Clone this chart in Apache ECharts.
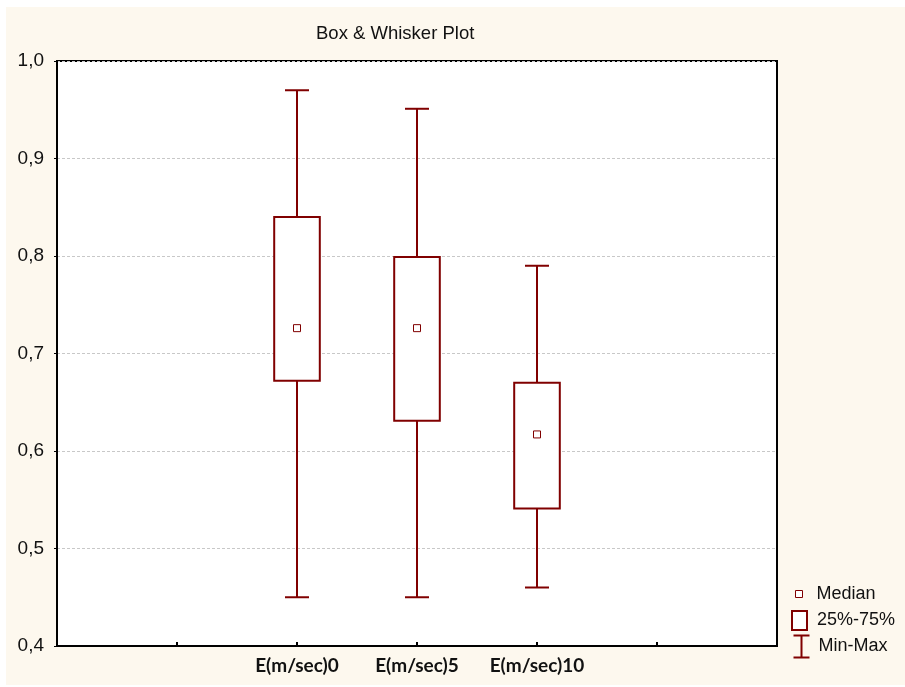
<!DOCTYPE html>
<html>
<head>
<meta charset="utf-8">
<script src="https://cdn.jsdelivr.net/npm/echarts@6/dist/echarts.min.js"></script>
<style>
  html, body { margin: 0; padding: 0; background: #ffffff; }
  #bg { position: absolute; left: 6px; top: 7px; width: 899px; height: 678px; background: #fdf8ee; }
  #chart { position: absolute; left: 0; top: 0; width: 905px; height: 687px; }
</style>
</head>
<body>
<div id="bg"></div>
<div id="chart"></div>
<script>
// ---- data ----
const categories = ['E(m/sec)0', 'E(m/sec)5', 'E(m/sec)10'];
const minVals    = [0.450, 0.450, 0.460];
const q1Vals     = [0.672, 0.631, 0.541];
const medianVals = [0.726, 0.726, 0.617];
const q3Vals     = [0.840, 0.799, 0.670];
const maxVals    = [0.970, 0.951, 0.790];
const yTicks     = [0.4, 0.5, 0.6, 0.7, 0.8, 0.9, 1.0];
const legendNames = ['Median', '25%-75%', 'Min-Max'];

// category axis padded with empty slots on both sides (as in the reference)
const axisCats = ['', ''].concat(categories, ['', '']);
const offset = 2;

const RED = '#800000';
const chart = echarts.init(document.getElementById('chart'), null, { renderer: 'canvas' });

const boxData = categories.map((c, i) => [i + offset, minVals[i], q1Vals[i], medianVals[i], q3Vals[i], maxVals[i]]);
const medData = categories.map((c, i) => [i + offset, medianVals[i]]);

function whiskerItem(params, api) {
  const x = api.value(0);
  const pMax = api.coord([x, api.value(5)]);
  const pQ3 = api.coord([x, api.value(4)]);
  const pQ1 = api.coord([x, api.value(2)]);
  const pMin = api.coord([x, api.value(1)]);
  const band = api.size([1, 0])[0];
  const half = band * 0.1;
  const style = { stroke: RED, lineWidth: 2, fill: null };
  return {
    type: 'group',
    children: [
      { type: 'line', shape: { x1: pMax[0], y1: pMax[1], x2: pQ3[0], y2: pQ3[1] }, style },
      { type: 'line', shape: { x1: pQ1[0], y1: pQ1[1], x2: pMin[0], y2: pMin[1] }, style },
      { type: 'line', shape: { x1: pMax[0] - half, y1: pMax[1], x2: pMax[0] + half, y2: pMax[1] }, style },
      { type: 'line', shape: { x1: pMin[0] - half, y1: pMin[1], x2: pMin[0] + half, y2: pMin[1] }, style }
    ]
  };
}

function boxItem(params, api) {
  const x = api.value(0);
  const pQ3 = api.coord([x, api.value(4)]);
  const pQ1 = api.coord([x, api.value(2)]);
  const band = api.size([1, 0])[0];
  const w = band * 0.38;
  return {
    type: 'rect',
    shape: { x: pQ3[0] - w / 2, y: pQ3[1], width: w, height: pQ1[1] - pQ3[1] },
    style: { fill: '#ffffff', stroke: RED, lineWidth: 2 }
  };
}

const FONT = "'Liberation Sans', Arial, sans-serif";

const option = {
  backgroundColor: 'transparent',
  animation: false,
  title: {
    text: 'Box & Whisker Plot',
    left: 311, top: 19,
    textStyle: { fontSize: 18.5, fontWeight: 'normal', color: '#111', fontFamily: FONT }
  },
  legend: [
    {
      data: [{ name: legendNames[0], icon: 'rect' }],
      left: 790, top: 580, itemWidth: 7, itemHeight: 7,
      itemStyle: { color: '#ffffff', borderColor: RED, borderWidth: 1 },
      textStyle: { fontSize: 18, color: '#111', fontFamily: FONT, padding: [0, 0, 0, 9] },
      selectedMode: false
    },
    {
      data: [{ name: legendNames[1], icon: 'rect' }],
      left: 786, top: 605, itemWidth: 15, itemHeight: 19,
      itemStyle: { color: '#ffffff', borderColor: RED, borderWidth: 2 },
      textStyle: { fontSize: 18, color: '#111', fontFamily: FONT, padding: [0, 0, 0, 5] },
      selectedMode: false
    },
    {
      data: [{ name: legendNames[2], icon: 'path://M0,0 L16,0 M8,0 L8,22 M0,22 L16,22' }],
      left: 786, top: 628, itemWidth: 16, itemHeight: 22,
      itemStyle: { color: 'none', borderColor: RED, borderWidth: 2 },
      textStyle: { fontSize: 18, color: '#111', fontFamily: FONT, padding: [0, 0, 0, 4] },
      selectedMode: false
    }
  ],
  grid: {
    left: 57, right: 128, top: 61, bottom: 41,
    show: true, backgroundColor: '#ffffff', borderColor: '#000', borderWidth: 2
  },
  xAxis: {
    type: 'category',
    data: axisCats,
    boundaryGap: false,
    axisLine: { lineStyle: { color: '#000', width: 2 } },
    axisTick: { inside: true, length: 4, interval: 0, lineStyle: { color: '#000', width: 2 } },
    axisLabel: { interval: 0, margin: 10, fontSize: 19, fontWeight: 'bold', color: '#111', fontFamily: "Lato, 'Open Sans', sans-serif" },
    splitLine: { show: false }
  },
  yAxis: {
    type: 'value',
    min: yTicks[0], max: yTicks[yTicks.length - 1], interval: 0.1,
    axisLine: { show: true, lineStyle: { color: '#000', width: 2 } },
    axisTick: { show: true, inside: false, length: 3, lineStyle: { color: '#000' } },
    axisLabel: {
      margin: 13, fontSize: 19, color: '#111', fontFamily: FONT,
      formatter: v => v.toFixed(1).replace('.', ',')
    },
    splitLine: { show: true, lineStyle: { color: '#c8c8c8', type: [3, 2], width: 1 } }
  },
  series: [
    {
      name: legendNames[2], type: 'custom', renderItem: whiskerItem,
      data: boxData, encode: { x: 0, y: [1, 5] }, itemStyle: { color: RED }, z: 2
    },
    {
      name: legendNames[1], type: 'custom', renderItem: boxItem,
      data: boxData, encode: { x: 0, y: [2, 4] }, itemStyle: { color: RED }, z: 3
    },
    {
      name: legendNames[0], type: 'scatter', data: medData,
      symbol: 'rect', symbolSize: 7,
      itemStyle: { color: '#ffffff', borderColor: RED, borderWidth: 1, opacity: 1 },
      z: 4
    }
  ]
};
chart.setOption(option);
</script>
</body>
</html>
